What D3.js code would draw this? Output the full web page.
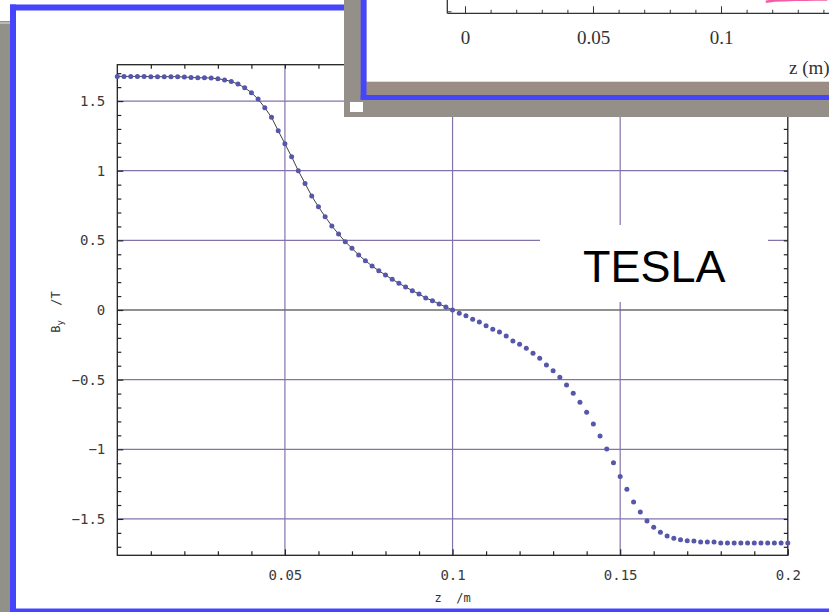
<!DOCTYPE html>
<html>
<head>
<meta charset="utf-8">
<script src="https://cdn.jsdelivr.net/npm/d3@7"></script>
<style>
  html, body { margin: 0; padding: 0; background: #fff; overflow: hidden; }
  svg { display: block; }
</style>
</head>
<body>
<svg id="chart" width="829" height="612"></svg>
<script>
// ---- data -------------------------------------------------------------
// Field samples B_y (T) along z, sampled every zStep metres from zStart.
const zStart = 0;
const zStep = 0.002;
const byField = [
   1.677,  1.677,  1.677,  1.677,  1.677,  1.675,  1.675,  1.675,  1.675,  1.675,
   1.672,  1.670,  1.667,  1.667,  1.665,  1.660,  1.652,  1.641,  1.622,  1.596,
   1.560,  1.514,  1.452,  1.383,  1.287,  1.193,  1.100,  0.999,  0.909,  0.818,
   0.741,  0.670,  0.603,  0.545,  0.490,  0.443,  0.395,  0.354,  0.316,  0.282,
   0.251,  0.220,  0.192,  0.165,  0.139,  0.115,  0.086,  0.067,  0.043,  0.022,
   0.000, -0.024, -0.042, -0.067, -0.086, -0.113, -0.139, -0.158, -0.187, -0.222,
  -0.246, -0.275, -0.311, -0.347, -0.395, -0.436, -0.483, -0.538, -0.598, -0.662,
  -0.734, -0.818, -0.904, -0.998, -1.096, -1.196, -1.287, -1.378, -1.450, -1.514,
  -1.559, -1.595, -1.622, -1.639, -1.649, -1.656, -1.658, -1.665, -1.665, -1.665,
  -1.672, -1.672, -1.672, -1.672, -1.672, -1.672, -1.672, -1.672, -1.672, -1.672,
  -1.672
];
// Solid reference curve covers the first half of the samples.
const fitZMax = 0.1;

const xDomain = [0, 0.2];
const yDomain = [-1.761, 1.761];
const xMajorTicks = [0.05, 0.1, 0.15, 0.2];
const xMinorTicks = [0.01, 0.02, 0.03, 0.04, 0.06, 0.07, 0.08, 0.09, 0.11, 0.12, 0.13, 0.14, 0.16, 0.17, 0.18, 0.19];
const yMajorTicks = [-1.5, -1, -0.5, 0, 0.5, 1, 1.5];
const yMinorTicks = [-1.7, -1.6, -1.4, -1.3, -1.2, -1.1, -0.9, -0.8, -0.7, -0.6, -0.4, -0.3, -0.2, -0.1,
                      0.1, 0.2, 0.3, 0.4, 0.6, 0.7, 0.8, 0.9, 1.1, 1.2, 1.3, 1.4, 1.6, 1.7];
const xGrid = [0.05, 0.1, 0.15];
const yGrid = [-1.5, -1, -0.5, 0.5, 1, 1.5];
const xTitle = "z  /m";
const yTitleMain = "B", yTitleSub = "y", yTitleUnit = "  /T";
const calloutText = "TESLA";

// Overlapping panel in the top-right corner (second field plot)
const insetMajorTicks = [0, 0.05, 0.1];
const insetMinorTicks = [0.01, 0.02, 0.03, 0.04, 0.06, 0.07, 0.08, 0.09, 0.11, 0.12, 0.13, 0.14];
const insetTitle = "z (m)";
const insetTraceZ = [0.1175, 0.121, 0.125, 0.129, 0.133, 0.137, 0.1415];
const insetTraceB = [-1.722, -1.714, -1.711, -1.709, -1.708, -1.707, -1.706];

// ---- drawing ----------------------------------------------------------
const svg = d3.select("#chart");
const monoFont = "'DejaVu Sans Mono', monospace";

// page frame
svg.append("rect").attr("x", 0).attr("y", 0).attr("width", 829).attr("height", 612).attr("fill", "#fff");
svg.append("rect").attr("x", 0).attr("y", 21).attr("width", 10).attr("height", 591).attr("fill", "#919189");
svg.append("line").attr("x1", 0).attr("x2", 10).attr("y1", 23).attr("y2", 23)
  .attr("stroke", "#c6c6be").attr("stroke-width", 1.6);
const blue = "#4545fb";
svg.append("rect").attr("x", 10).attr("y", 4.5).attr("width", 6).attr("height", 607.5).attr("fill", blue);
svg.append("rect").attr("x", 10).attr("y", 4.5).attr("width", 819).attr("height", 6.2).attr("fill", blue);
svg.append("rect").attr("x", 10).attr("y", 608.3).attr("width", 819).attr("height", 4).attr("fill", blue);
svg.append("rect").attr("x", 16).attr("y", 10.7).attr("width", 813).attr("height", 597.6).attr("fill", "#fff");

// scales
const x = d3.scaleLinear().domain(xDomain).range([117.3, 787.8]);
const y = d3.scaleLinear().domain(yDomain).range([555.3, 64.7]);

const points = byField.map((b, i) => ({ z: zStart + i * zStep, b }));

const plot = svg.append("g");

// grid
const gridColor = "#8373ad";
plot.append("g").selectAll("line").data(xGrid).join("line")
  .attr("x1", d => x(d)).attr("x2", d => x(d))
  .attr("y1", y.range()[0]).attr("y2", y.range()[1])
  .attr("stroke", gridColor).attr("stroke-width", 1.2);
plot.append("g").selectAll("line").data(yGrid).join("line")
  .attr("x1", x.range()[0]).attr("x2", x.range()[1])
  .attr("y1", d => y(d)).attr("y2", d => y(d))
  .attr("stroke", gridColor).attr("stroke-width", 1.2);
plot.append("line")
  .attr("x1", x.range()[0]).attr("x2", x.range()[1])
  .attr("y1", y(0)).attr("y2", y(0))
  .attr("stroke", "#6c6c6c").attr("stroke-width", 1.4);

// callout box with label (sits over the grid)
plot.append("rect").attr("x", 540).attr("y", 225).attr("width", 228).attr("height", 77).attr("fill", "#fff");
plot.append("text").attr("x", 583).attr("y", 282)
  .attr("font-family", "'Liberation Sans', Arial, sans-serif")
  .attr("font-size", 45).attr("fill", "#000")
  .text(calloutText);

// axes: frame ticks on all four sides, pointing inward
function styleAxis(g) {
  g.select(".domain").remove();
  g.selectAll(".tick line").attr("stroke", "#222").attr("stroke-width", 1.2);
  g.selectAll(".tick text").attr("font-family", monoFont).attr("font-size", 14).attr("fill", "#3a3a3a");
}
const fmt = d => (d < 0 ? "\u2212" : "") + String(Math.abs(d));
const [y0px, y1px] = y.range();
const [x0px, x1px] = x.range();

plot.append("g").attr("transform", `translate(0,${y0px})`)
  .call(d3.axisBottom(x).tickValues(xMinorTicks).tickSize(-4).tickFormat("")).call(styleAxis);
plot.append("g").attr("transform", `translate(0,${y0px})`)
  .call(d3.axisBottom(x).tickValues(xMajorTicks).tickSize(-6).tickPadding(15).tickFormat(fmt)).call(styleAxis);
plot.append("g").attr("transform", `translate(0,${y1px})`)
  .call(d3.axisTop(x).tickValues(xMinorTicks.concat(xMajorTicks)).tickSize(-4).tickFormat("")).call(styleAxis);

plot.append("g").attr("transform", `translate(${x0px},0)`)
  .call(d3.axisLeft(y).tickValues(yMinorTicks).tickSize(-4).tickFormat("")).call(styleAxis);
plot.append("g").attr("transform", `translate(${x0px},0)`)
  .call(d3.axisLeft(y).tickValues(yMajorTicks).tickSize(-6).tickPadding(12).tickFormat(fmt)).call(styleAxis);
plot.append("g").attr("transform", `translate(${x1px},0)`)
  .call(d3.axisRight(y).tickValues(yMinorTicks.concat(yMajorTicks)).tickSize(-4).tickFormat("")).call(styleAxis);

// frame
plot.append("rect")
  .attr("x", x0px).attr("y", y1px).attr("width", x1px - x0px).attr("height", y0px - y1px)
  .attr("fill", "none").attr("stroke", "#222").attr("stroke-width", 1.3);

// axis titles
plot.append("text").attr("x", (x(0.1))).attr("y", 602)
  .attr("text-anchor", "middle").attr("font-family", monoFont).attr("font-size", 12).attr("fill", "#333")
  .style("white-space", "pre")
  .text(xTitle);
const yt = plot.append("text").attr("transform", `translate(60,${y(0) + 2}) rotate(-90)`)
  .attr("text-anchor", "middle").attr("font-family", monoFont).attr("font-size", 12).attr("fill", "#333")
  .style("white-space", "pre");
yt.append("tspan").text(yTitleMain);
yt.append("tspan").attr("font-size", 9).attr("dy", 3).text(yTitleSub);
yt.append("tspan").attr("dy", -3).text(yTitleUnit);

// solid curve over the first half
plot.append("path")
  .datum(points.filter(p => p.z <= fitZMax + 1e-9))
  .attr("fill", "none").attr("stroke", "#2a2a2a").attr("stroke-width", 0.9)
  .attr("d", d3.line().x(d => x(d.z)).y(d => y(d.b)));

// sample dots
plot.append("g").selectAll("circle").data(points).join("circle")
  .attr("cx", d => x(d.z)).attr("cy", d => y(d.b)).attr("r", 2.5)
  .attr("fill", "#5656ab");

// ---- overlapping panel --------------------------------------------------
const inset = svg.append("g");
inset.append("rect").attr("x", 344).attr("y", 0).attr("width", 485).attr("height", 117).attr("fill", "#948f89");
inset.append("rect").attr("x", 350).attr("y", 102).attr("width", 13).attr("height", 10).attr("fill", "#fff");
inset.append("rect").attr("x", 360.7).attr("y", 0).attr("width", 6).attr("height", 100).attr("fill", blue);
inset.append("rect").attr("x", 360.7).attr("y", 95).attr("width", 468.3).attr("height", 5).attr("fill", blue);
inset.append("rect").attr("x", 366.7).attr("y", 81.7).attr("width", 462.3).attr("height", 13.3).attr("fill", "#9b8d85");
inset.append("rect").attr("x", 366.7).attr("y", 0).attr("width", 462.3).attr("height", 81.7).attr("fill", "#fff");

const ix = d3.scaleLinear().domain([0, 0.1]).range([465, 721]);
const iy = d3.scaleLinear().domain([-1.8, 1.8]).range([13.3, -520]);
const axisY = 13.3;

svg.append("defs").append("clipPath").attr("id", "insetClip")
  .append("rect").attr("x", 366.7).attr("y", 0).attr("width", 462.3).attr("height", 81.7);
const ig = inset.append("g").attr("clip-path", "url(#insetClip)");

ig.append("path")
  .datum(insetTraceZ.map((z, i) => ({ z, b: insetTraceB[i] })))
  .attr("fill", "none").attr("stroke", "#ef4c9c").attr("stroke-width", 2.6).attr("stroke-opacity", 0.9)
  .attr("d", d3.line().x(d => ix(d.z)).y(d => iy(d.b)));

function styleInsetAxis(g) {
  g.select(".domain").remove();
  g.selectAll(".tick line").attr("stroke", "#333").attr("stroke-width", 1);
  g.selectAll(".tick text").attr("font-family", "'Liberation Serif', 'Times New Roman', serif")
    .attr("font-size", 19).attr("fill", "#333");
}
ig.append("g").attr("transform", `translate(0,${axisY})`)
  .call(d3.axisBottom(ix).tickValues(insetMinorTicks).tickSize(-3.5).tickFormat("")).call(styleInsetAxis);
ig.append("g").attr("transform", `translate(0,${axisY})`)
  .call(d3.axisBottom(ix).tickValues(insetMajorTicks).tickSize(-7).tickPadding(17).tickFormat(d => String(d)))
  .call(styleInsetAxis);
ig.append("line").attr("x1", 447.3).attr("x2", 829).attr("y1", axisY).attr("y2", axisY)
  .attr("stroke", "#333").attr("stroke-width", 1.3);
ig.append("line").attr("x1", 447.3).attr("x2", 447.3).attr("y1", 0).attr("y2", axisY)
  .attr("stroke", "#333").attr("stroke-width", 1.3);
ig.append("line").attr("x1", 447.3).attr("x2", 451.5).attr("y1", 11.8).attr("y2", 11.8)
  .attr("stroke", "#333").attr("stroke-width", 1);
ig.append("text").attr("x", 789).attr("y", 74)
  .attr("font-family", "'Liberation Serif', 'Times New Roman', serif").attr("font-size", 19).attr("fill", "#333")
  .text(insetTitle);
</script>
</body>
</html>
